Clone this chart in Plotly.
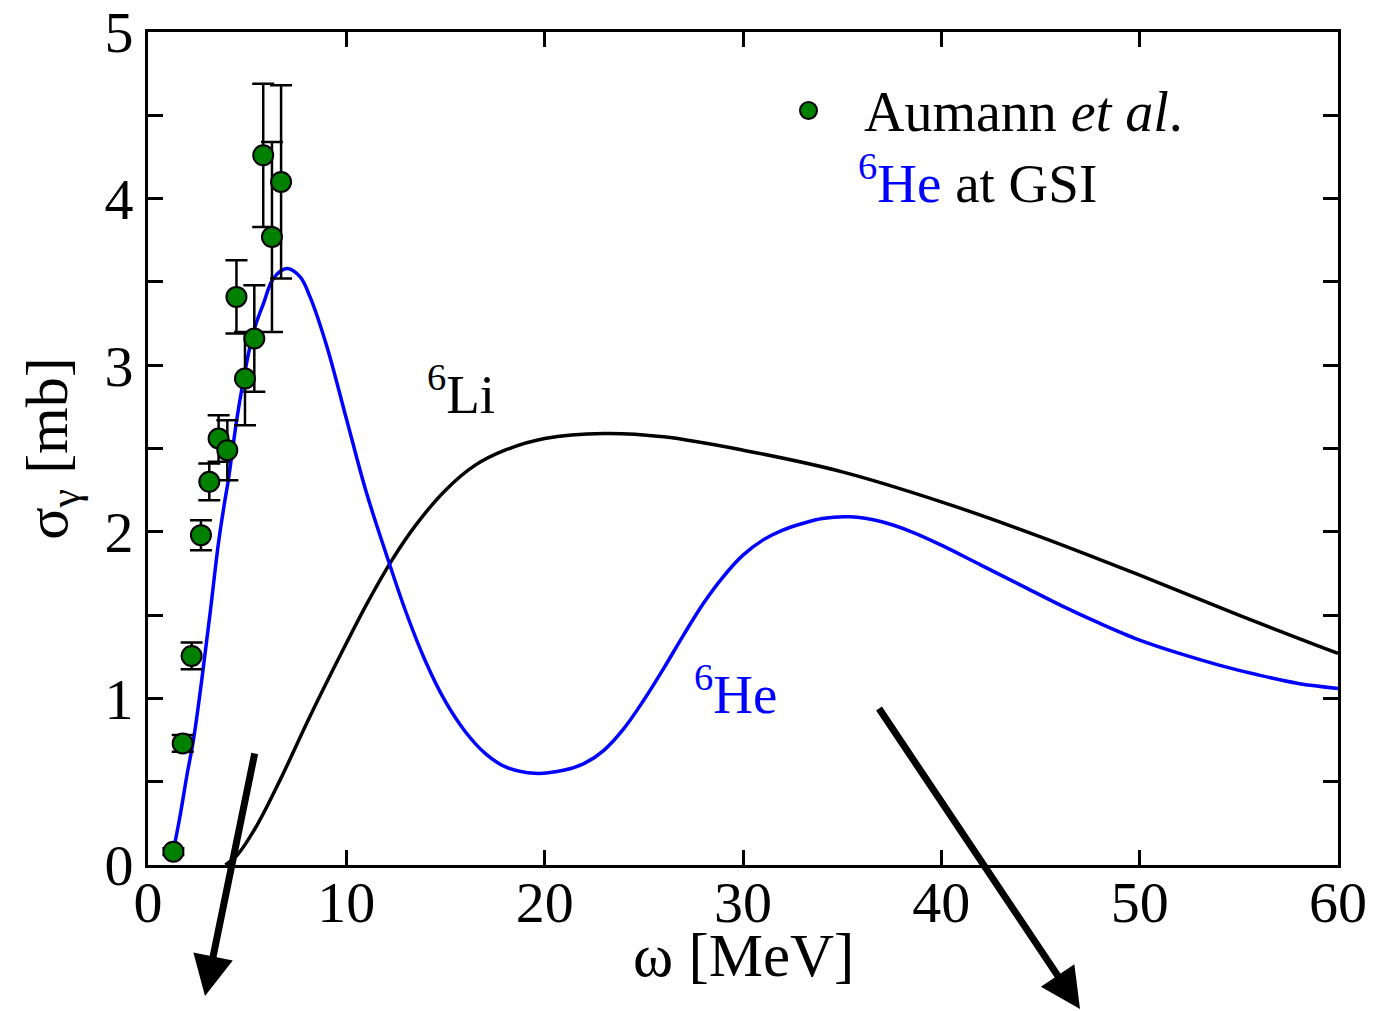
import plotly.graph_objects as go

# Data: Aumann et al. (6He at GSI)
exp_x = [1.28, 1.75, 2.20, 2.67, 3.09, 3.56, 4.00, 4.46, 4.89, 5.36, 5.81, 6.25, 6.71]
exp_y = [0.08, 0.73, 1.255, 1.98, 2.30, 2.56, 2.49, 3.41, 2.92, 3.16, 4.26, 3.77, 4.10]
exp_err = [0.02, 0.05, 0.08, 0.09, 0.11, 0.14, 0.18, 0.22, 0.28, 0.32, 0.43, 0.57, 0.58]

# 6He theory curve
he_x = [1.2, 1.61, 1.95, 2.29, 2.71, 3.13, 3.55, 3.88, 4.05, 4.47, 4.81, 5.14, 5.45,
        5.82, 6.32, 7.0, 7.67, 8.17, 9.0, 10.0, 11.0, 12.0, 13.0, 14.0, 15.0, 16.0,
        17.0, 18.0, 19.5, 21.0, 22.0, 23.0, 24.0, 25.0, 26.0, 27.0, 28.0, 29.0, 30.0,
        31.0, 32.0, 33.0, 34.0, 35.4, 37.0, 38.5, 40.0, 42.0, 44.0, 46.0, 48.0, 50.0,
        52.0, 54.0, 56.0, 58.0, 60.0]
he_y = [0.04, 0.29, 0.53, 0.75, 1.11, 1.51, 1.93, 2.19, 2.31, 2.67, 2.91, 3.11, 3.25,
        3.37, 3.52, 3.58, 3.53, 3.41, 3.12, 2.68, 2.24, 1.87, 1.52, 1.22, 0.98, 0.80,
        0.67, 0.59, 0.55, 0.57, 0.61, 0.69, 0.82, 0.99, 1.18, 1.38, 1.57, 1.73, 1.86,
        1.95, 2.01, 2.05, 2.08, 2.09, 2.06, 2.00, 1.92, 1.80, 1.68, 1.56, 1.45, 1.35,
        1.27, 1.20, 1.14, 1.09, 1.06]

# 6Li theory curve
li_x = [3.9, 4.5, 5.5, 6.7, 8.2, 9.7, 11.0, 12.3, 13.5, 15.0, 16.5, 18.0, 20.0, 23.0,
        26.0, 30.0, 35.0, 40.0, 45.0, 50.0, 55.0, 60.0]
li_y = [0.0, 0.06, 0.24, 0.52, 0.90, 1.26, 1.56, 1.83, 2.04, 2.25, 2.40, 2.49, 2.56,
        2.59, 2.57, 2.49, 2.36, 2.18, 1.97, 1.74, 1.50, 1.27]

x_ticks = [0, 10, 20, 30, 40, 50, 60]
y_ticks = [0, 1, 2, 3, 4, 5]

FONT = "Liberation Serif"
BLUE = "#0000ff"
GREEN = "#008000"

# page body has an 8px margin: figure is placed at (8, 8)
W, H = 1368, 1003
L, R, T, B = 140, 38, 24, 146
PW, PH = W - L - R, H - T - B


def px(xpix):
    return (xpix - 8 - L) / PW


def py(ypix):
    return (H - B - (ypix - 8)) / PH


fig = go.Figure()
fig.add_trace(go.Scatter(x=li_x, y=li_y, mode="lines",
                         line=dict(color="black", width=3.5, shape="spline", smoothing=1.0),
                         showlegend=False, hoverinfo="skip"))
fig.add_trace(go.Scatter(x=he_x, y=he_y, mode="lines",
                         line=dict(color=BLUE, width=3.5, shape="spline", smoothing=1.0),
                         showlegend=False, hoverinfo="skip"))
fig.add_trace(go.Scatter(x=exp_x, y=exp_y, mode="markers",
                         marker=dict(color=GREEN, size=20, line=dict(color="black", width=2)),
                         error_y=dict(type="data", array=exp_err, color="black",
                                      thickness=2.5, width=11),
                         showlegend=False))

axis_common = dict(showline=True, linecolor="black", linewidth=3, mirror="ticks",
                   ticks="inside", tickcolor="black", tickwidth=2.5, ticklen=15,
                   showgrid=False, zeroline=False, automargin=False,
                   ticklabeloverflow="allow",
                   tickfont=dict(family=FONT, size=58, color="black"))

fig.update_xaxes(range=[0, 60], tickvals=x_ticks, ticktext=[str(v) for v in x_ticks],
                 ticklabelstandoff=-16, **axis_common)
fig.update_yaxes(range=[0, 5], tickvals=y_ticks, ticktext=[str(v) for v in y_ticks],
                 minor=dict(dtick=0.5, ticks="inside", ticklen=15, tickwidth=2.5,
                            tickcolor="black", showgrid=False),
                 title=dict(text="σ<sub>γ</sub> [mb]",
                            font=dict(family=FONT, size=60, color="black"), standoff=18),
                 **axis_common)

# x-axis title
fig.add_annotation(xref="paper", yref="paper", x=0.5, y=py(955), xanchor="center",
                   yanchor="middle", showarrow=False, text="ω [MeV]",
                   font=dict(family=FONT, size=61, color="black"))

# legend-like text
fig.add_shape(type="circle", xref="paper", yref="paper",
              x0=px(800), x1=px(817), y0=py(119), y1=py(102),
              fillcolor=GREEN, line=dict(color="black", width=2))
fig.add_annotation(xref="paper", yref="paper", x=px(862), y=py(112),
                   xanchor="left", yanchor="middle", showarrow=False,
                   text="Aumann <i>et al</i>.", font=dict(family=FONT, size=56, color="black"))
fig.add_annotation(xref="paper", yref="paper", x=px(856), y=py(180),
                   xanchor="left", yanchor="middle", showarrow=False,
                   text="<span style='color:#0000ff'><sup>6</sup>He</span> at GSI",
                   font=dict(family=FONT, size=55, color="black"))
fig.add_annotation(x=15.8, y=2.85, xanchor="center", yanchor="middle", showarrow=False,
                   text="<sup>6</sup>Li", font=dict(family=FONT, size=55, color="black"))
fig.add_annotation(x=29.6, y=1.05, xanchor="center", yanchor="middle", showarrow=False,
                   text="<sup>6</sup>He", font=dict(family=FONT, size=55, color=BLUE))

# thick arrows (paper coordinates, extending below the axes)
fig.add_annotation(xref="paper", yref="paper", x=px(205), y=py(996),
                   ax=50, ay=-244, axref="pixel", ayref="pixel",
                   showarrow=True, arrowhead=2, arrowsize=1.15, arrowwidth=7,
                   arrowcolor="black", text="")
fig.add_annotation(xref="paper", yref="paper", x=px(1080), y=py(1009),
                   ax=-202, ay=-302, axref="pixel", ayref="pixel",
                   showarrow=True, arrowhead=2, arrowsize=1.15, arrowwidth=7,
                   arrowcolor="black", text="")

fig.update_layout(width=W, height=H, plot_bgcolor="white", paper_bgcolor="white",
                  margin=dict(l=L, r=R, t=T, b=B, autoexpand=False), showlegend=False)

fig.write_html("out.html")
